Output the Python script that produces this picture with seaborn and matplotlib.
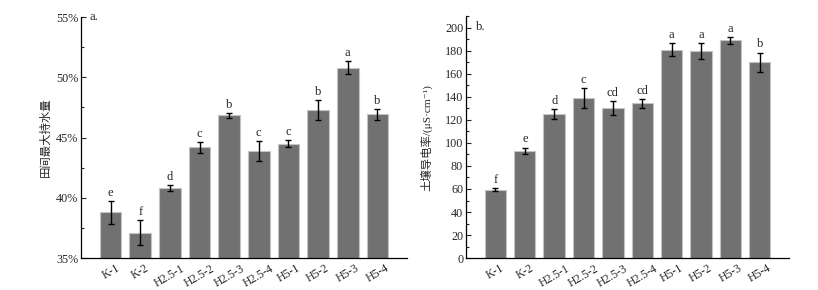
import numpy as np
import pandas as pd
import seaborn as sns
import matplotlib.pyplot as plt
from matplotlib.ticker import MultipleLocator, FuncFormatter

sns.set_style("white")
plt.rcParams['font.family'] = ['Liberation Serif', 'Noto Sans CJK SC', 'DejaVu Serif']

## Data
groups = ["K-1", "K-2", "H2.5-1", "H2.5-2", "H2.5-3", "H2.5-4",
          "H5-1", "H5-2", "H5-3", "H5-4"]

# a. field maximum water holding capacity (%)
whc_mean = [38.8, 37.1, 40.8, 44.2, 46.85, 43.9, 44.5, 47.3, 50.8, 46.95]
whc_err = [0.95, 1.05, 0.25, 0.45, 0.2, 0.85, 0.3, 0.8, 0.55, 0.45]
whc_sig = ["e", "f", "d", "c", "b", "c", "c", "b", "a", "b"]

# b. soil electrical conductivity (uS/cm)
ec_mean = [59.5, 93.0, 125.0, 138.8, 130.5, 134.5, 181.0, 180.0, 189.0, 170.0]
ec_err = [1.2, 3.0, 4.5, 8.5, 6.0, 4.0, 5.5, 7.0, 3.0, 8.5]
ec_sig = ["f", "e", "d", "c", "cd", "cd", "a", "a", "a", "b"]

df = pd.DataFrame({"group": groups, "whc": whc_mean, "ec": ec_mean})

bar_col = "#717171"
edge_col = "#c4c4c4"

fig = plt.figure(figsize=(8.18, 2.90), dpi=100)
ax1 = fig.add_axes([0.099, 0.110, 0.3985, 0.831])
ax2 = fig.add_axes([0.5697, 0.110, 0.395, 0.834])


def draw_panel(ax, col, err, sig, lab_off):
    sns.barplot(data=df, x="group", y=col, color=bar_col, width=0.73,
                edgecolor=edge_col, linewidth=0.8, saturation=1,
                errorbar=None, ax=ax)
    xs = np.arange(len(groups))
    ax.errorbar(xs, df[col], yerr=err, fmt="none", ecolor="black",
                elinewidth=1.0, capsize=1.9, capthick=1.0)
    for x, m, e, s in zip(xs, df[col], err, sig):
        ax.annotate(s, (x, m + e), xytext=(0, lab_off), textcoords="offset points",
                    ha="center", va="bottom", fontsize=9)
    ax.set_xlim(-1.0, 10.0)
    ax.set_xlabel("")
    sns.despine(ax=ax)
    for sp in ["left", "bottom"]:
        ax.spines[sp].set_color("black")
        ax.spines[sp].set_linewidth(0.9)
    ax.tick_params(axis="y", which="major", direction="in", length=3.5,
                   width=0.8, labelsize=8.7, pad=2, left=True)
    ax.tick_params(axis="y", which="minor", direction="in", length=2,
                   width=0.8, left=True)
    ax.tick_params(axis="x", length=0, labelsize=8.5, pad=3)
    plt.setp(ax.get_xticklabels(), rotation=30, ha="center")


draw_panel(ax1, "whc", whc_err, whc_sig, 1.5)
ax1.set_ylim(35, 55)
ax1.yaxis.set_major_locator(MultipleLocator(5))
ax1.yaxis.set_minor_locator(MultipleLocator(2.5))
ax1.yaxis.set_major_formatter(FuncFormatter(lambda v, p: f"{v:.0f}%"))
ax1.set_ylabel("田间最大持水量", fontsize=8.2)
ax1.yaxis.set_label_coords(-0.092, 0.5)
ax1.text(0.025, 1.0, "a.", transform=ax1.transAxes, fontsize=9,
         ha="left", va="center")

draw_panel(ax2, "ec", ec_err, ec_sig, 1.5)
ax2.set_ylim(0, 210)
ax2.yaxis.set_major_locator(MultipleLocator(20))
ax2.yaxis.set_minor_locator(MultipleLocator(10))
ax2.set_ylabel("土壤导电率/(μS·cm⁻¹)", fontsize=8.2)
ax2.yaxis.set_label_coords(-0.105, 0.5)
ax2.text(0.03, 0.955, "b.", transform=ax2.transAxes, fontsize=9,
         ha="left", va="center")

fig.savefig("out.png", dpi=100)
